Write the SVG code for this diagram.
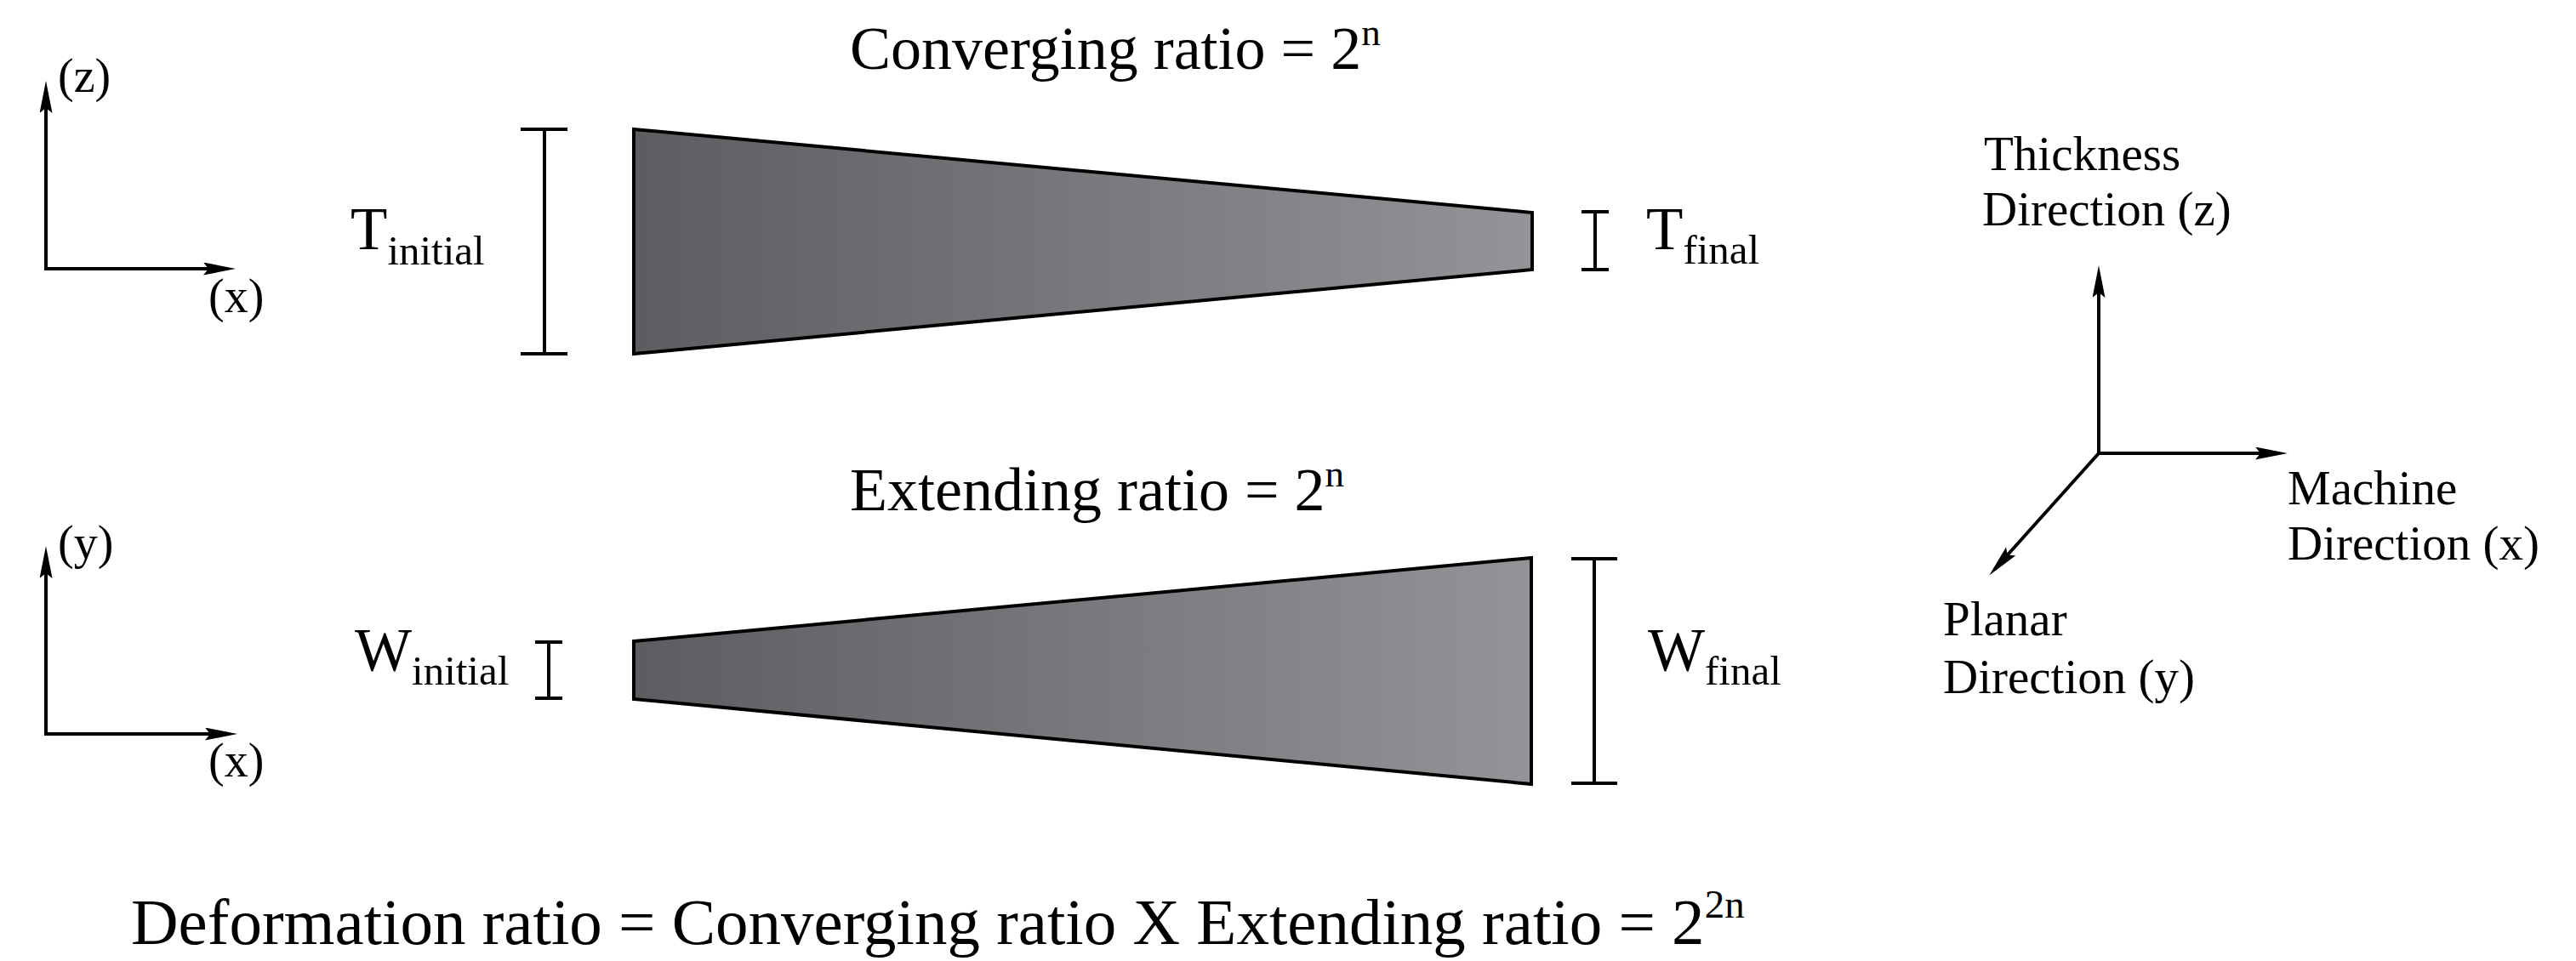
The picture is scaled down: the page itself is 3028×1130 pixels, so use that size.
<svg xmlns="http://www.w3.org/2000/svg" width="3028" height="1130" viewBox="0 0 3028 1130">
<style>
text{font-family:"Liberation Serif","Times New Roman",serif;fill:#000}
.title{font-size:72px}
.main{font-size:71px}
.sub{font-size:49px}
.ax{font-size:56px}
.lab{font-size:57px}
.bar{stroke:#000;stroke-width:4;fill:none}
.arr{stroke:#000;stroke-width:4;fill:none;marker-end:url(#ah)}
.trap{stroke:#000;stroke-width:4;stroke-linejoin:miter;fill:url(#grad)}
</style>
<defs>
<linearGradient id="grad" x1="0" y1="0" x2="1" y2="0">
<stop offset="0" stop-color="#5b5d60"/>
<stop offset="1" stop-color="#929498"/>
</linearGradient>
<marker id="ah" markerUnits="userSpaceOnUse" markerWidth="40" markerHeight="16" refX="28" refY="7.5" orient="auto">
<path d="M0,0 L38,7.5 L0,15 L6,7.5 z" fill="#000"/>
</marker>
</defs>
<rect width="3028" height="1130" fill="#fff"/>

<g id="title-converging"><text class="title" x="999" y="81">Converging ratio = 2<tspan font-size="45" dy="-28">n</tspan></text></g>
<g id="title-extending"><text class="title" x="999" y="600">Extending ratio = 2<tspan font-size="45" dy="-28">n</tspan></text></g>
<g id="formula"><text font-size="77" x="154" y="1110">Deformation ratio = Converging ratio X Extending ratio = 2<tspan font-size="47" dy="-31">2n</tspan></text></g>

<g id="axes-xz-labels">
<text class="ax" x="68" y="108">(z)</text>
<text class="ax" x="245" y="367">(x)</text>
</g>
<g id="axes-xy-labels">
<text class="ax" x="68" y="657">(y)</text>
<text class="ax" x="245" y="913">(x)</text>
</g>

<g id="top-trapezoid">
<polygon class="trap" points="745,152 1801,250 1801,317 745,416"/>
</g>
<g id="t-initial">
<path class="bar" d="M640,152V416M612,152H667M612,416H667"/>
<text class="main" x="412" y="293">T<tspan class="sub" dy="18">initial</tspan></text>
</g>
<g id="t-final">
<path class="bar" d="M1875,249V317M1859,249H1891M1859,317H1891"/>
<text class="main" x="1935" y="293">T<tspan class="sub" dy="17">final</tspan></text>
</g>

<g id="bottom-trapezoid">
<polygon class="trap" points="745,754 1800,656 1800,922 745,822"/>
</g>
<g id="w-initial">
<path class="bar" d="M645,755V821M629,755H661M629,821H661"/>
<text class="main" x="417" y="788">W<tspan class="sub" dy="17">initial</tspan></text>
</g>
<g id="w-final">
<path class="bar" d="M1874,657V921M1847,657H1901M1847,921H1901"/>
<text class="main" x="1937" y="788">W<tspan class="sub" dy="17">final</tspan></text>
</g>

<g id="axes-3d-labels">
<text class="lab" x="2332" y="200">Thickness</text>
<text class="lab" x="2330" y="265">Direction (z)</text>
<text class="lab" x="2689" y="593">Machine</text>
<text class="lab" x="2689" y="658">Direction (x)</text>
<text class="lab" x="2284" y="747">Planar</text>
<text class="lab" x="2284" y="815">Direction (y)</text>
</g>

<g id="connectors">
<line class="arr" x1="54" y1="318" x2="54" y2="105"/>
<line class="arr" x1="52" y1="316" x2="267" y2="316"/>
<line class="arr" x1="54" y1="865" x2="54" y2="652"/>
<line class="arr" x1="52" y1="863" x2="269" y2="863"/>
<line class="arr" x1="2467" y1="535" x2="2467" y2="322"/>
<line class="arr" x1="2465" y1="533" x2="2679" y2="533"/>
<line class="arr" x1="2467" y1="533" x2="2345" y2="669"/>
</g>
</svg>
